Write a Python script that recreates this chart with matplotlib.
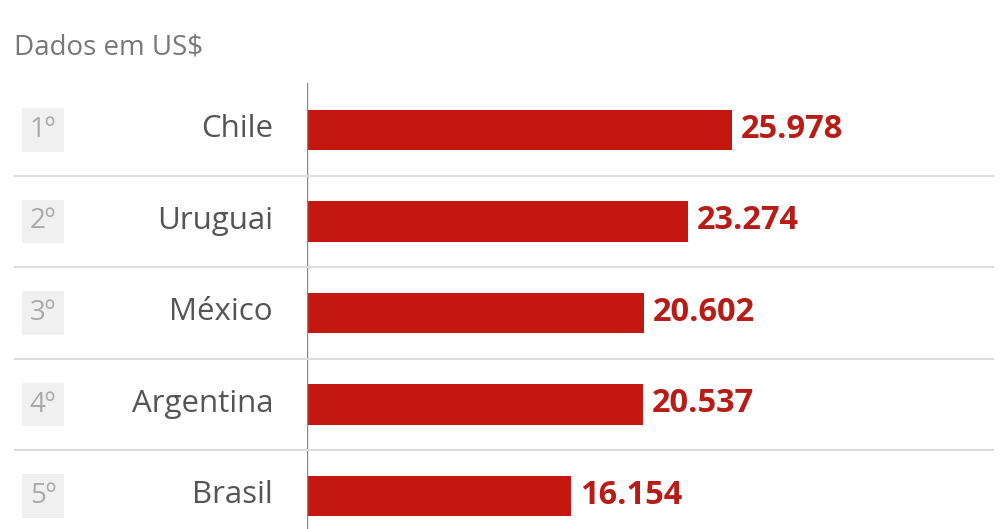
import matplotlib
matplotlib.use("Agg")
import matplotlib.pyplot as plt
from matplotlib.transforms import blended_transform_factory
from matplotlib.patches import Rectangle
from matplotlib.lines import Line2D

# data
countries = ["Chile", "Uruguai", "México", "Argentina", "Brasil"]
ranks = ["1º", "2º", "3º", "4º", "5º"]
values = [25978, 23274, 20602, 20537, 16154]
value_labels = ["25.978", "23.274", "20.602", "20.537", "16.154"]

plt.rcParams["font.family"] = ["Open Sans", "DejaVu Sans"]

W, H = 1008, 529
fig = plt.figure(figsize=(W / 100, H / 100), dpi=100)
ax = fig.add_axes([307 / W, 0, 701 / W, 1])
ax.set_xlim(0, 42850)
ax.set_ylim((H - 130) / 91.5, -130 / 91.5)
ax.axis("off")

bar_color = "#c3170f"
ypos = list(range(len(countries)))
ax.barh(ypos, values, height=0.44, color=bar_color, zorder=3)

# axis line at zero
ax.axvline(0, ymin=0, ymax=1 - 83 / H, color="#888888", lw=1.0, zorder=4)

fig_y = blended_transform_factory(fig.transFigure, ax.transData)

for i, (c, r, v, lab) in enumerate(zip(countries, ranks, values, value_labels)):
    ax.text(v + 560, i - 0.01, lab, va="center", ha="left", fontsize=23.5,
            fontweight="bold", color="#b81c16")
    fig.text(273 / W, i - 0.01, c, transform=fig_y, va="center", ha="right",
             fontsize=22.5, color="#555555")
    fig.patches.append(Rectangle((22 / W, i - 0.235), 42 / W, 0.47,
                                 transform=fig_y, facecolor="#f0f0f0",
                                 edgecolor="none"))
    fig.text(43 / W, i, r, transform=fig_y, va="center", ha="center",
             fontsize=20, color="#aaaaaa")

for i in range(len(countries) - 1):
    fig.add_artist(Line2D([15 / W, 993 / W], [i + 0.5, i + 0.5],
                          transform=fig_y, color="#dddddd", lw=1.5))

fig.text(14 / W, 1 - 47 / H, "Dados em US$", va="center", ha="left",
         fontsize=20, color="#777777")

fig.savefig("out.png", dpi=100)
